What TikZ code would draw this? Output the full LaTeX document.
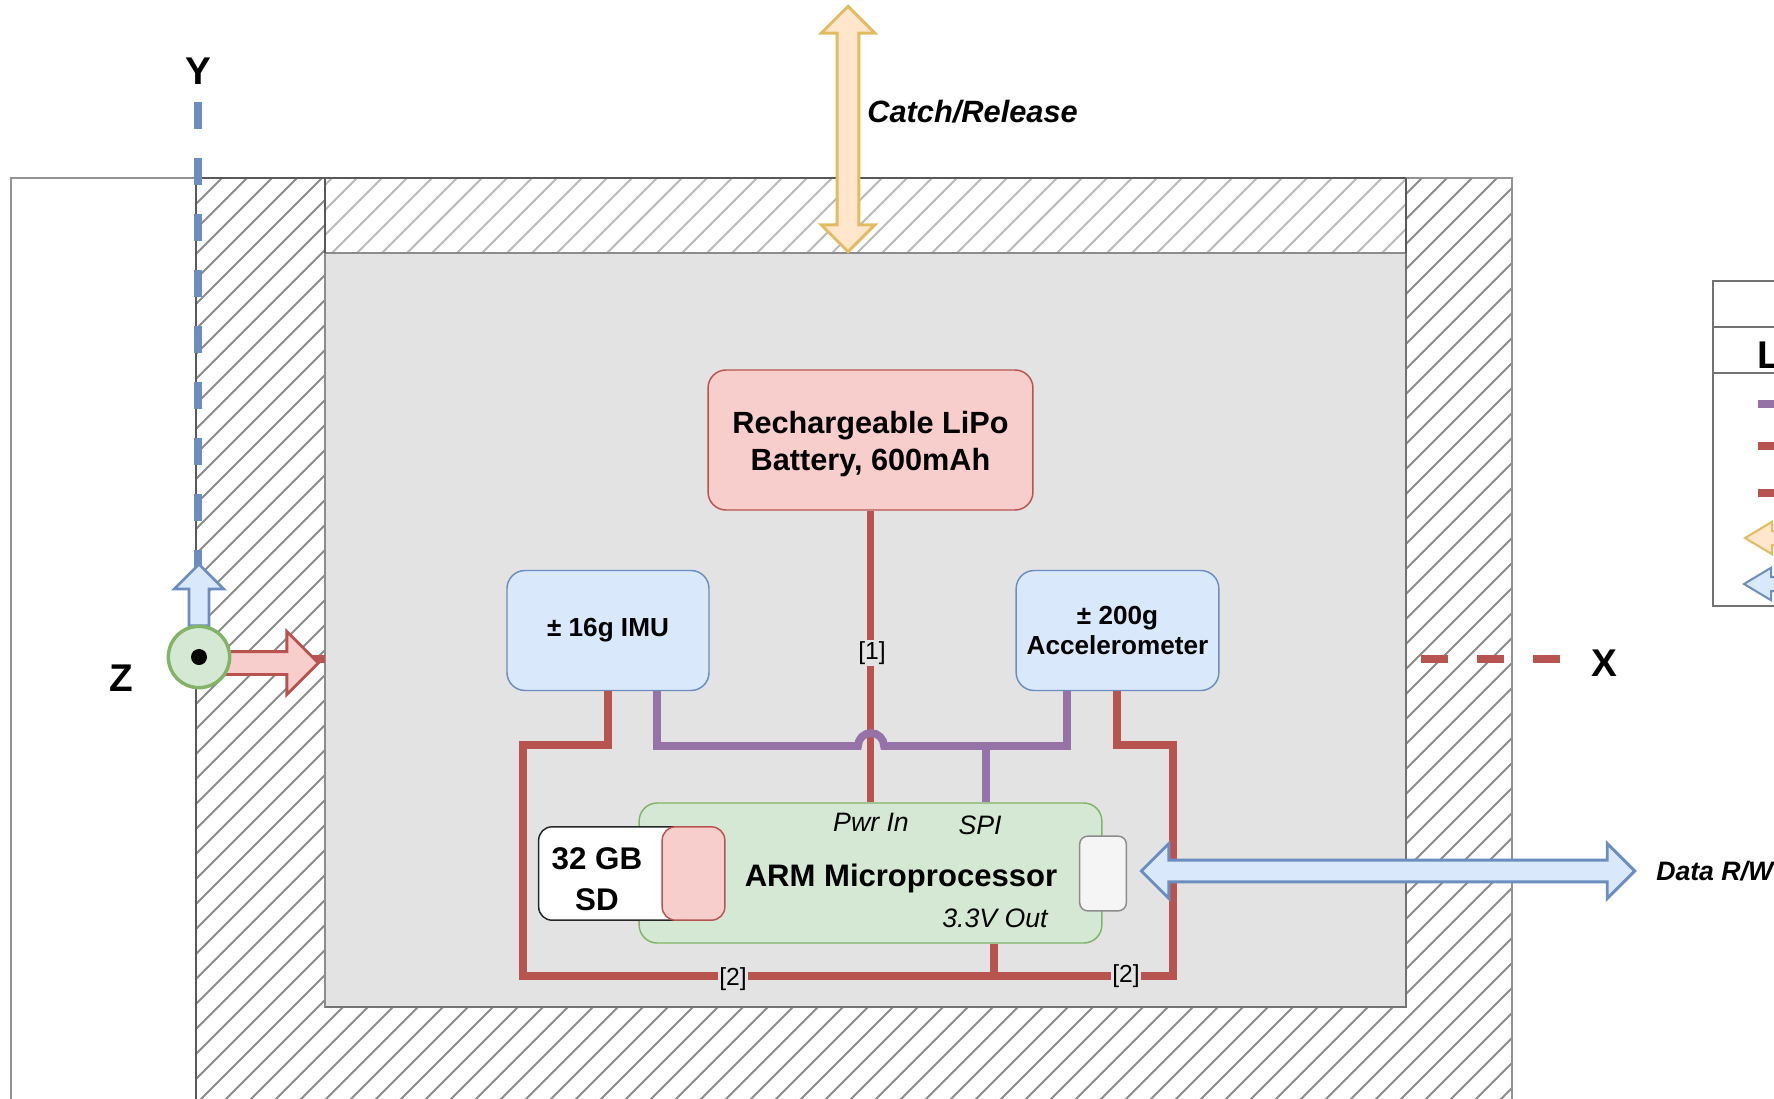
\documentclass[tikz,border=0pt]{standalone}
\usepackage{fontspec}
\setmainfont{Liberation Sans}
\usetikzlibrary{shapes.arrows,calc}
\definecolor{wred}{HTML}{B85450}
\definecolor{wpurple}{HTML}{9673A6}
\definecolor{wblue}{HTML}{6C8EBF}
\definecolor{fred}{HTML}{F8CECC}
\definecolor{fblue}{HTML}{DAE8FC}
\definecolor{fgreen}{HTML}{D5E8D4}
\definecolor{wgreen}{HTML}{82B366}
\definecolor{forange}{HTML}{FFE6CC}
\definecolor{worange}{HTML}{E3BC62}
\definecolor{panel}{HTML}{E3E3E3}
\newcommand{\fsz}[1]{\fontsize{#1}{#1}\selectfont}
\tikzset{
  px/.style={x=0.75pt,y=-0.75pt},
  box/.style={rounded corners=13.5pt,line width=1.1pt,inner sep=0pt,align=center,font=\bfseries\fsz{20.5}},
  redbox/.style={box,draw=wred,fill=fred},
  bluebox/.style={box,draw=wblue,fill=fblue},
  redwire/.style={draw=wred,line width=5.8pt,line join=miter},
  purplewire/.style={draw=wpurple,line width=5.8pt,line join=miter},
  axisdash/.style={line width=6pt,dash pattern=on 20.5pt off 21.5pt},
  tag/.style={fill=panel,inner sep=1pt,font=\fsz{18.5}},
  portlabel/.style={font=\itshape\fsz{20},inner sep=0pt},
  axislabel/.style={font=\bfseries\fsz{29},inner sep=0pt},
  hatchline/.style={line width=1.4pt},
  bigarrow/.style={double arrow,inner xsep=0pt,inner ysep=7pt,line width=2.2pt,double arrow head extend=12pt,minimum width=38pt},
  tagarrow/.style={double arrow,inner xsep=0pt,inner ysep=4.5pt,line width=1.5pt,double arrow tip angle=62,double arrow head extend=7pt,minimum width=24pt,minimum height=150pt}
}
\begin{document}
\begin{tikzpicture}[px]
\useasboundingbox (0,0) rectangle (1774,1099);
\clip (0,0) rectangle (1774,1099);
\fill[white] (0,0) rectangle (1774,1099);
% housing
\draw[gray!85,line width=1.8pt] (11,178) rectangle (1512,1120);
\begin{scope}
  \clip (196,178) rectangle (1512,1120);
  \foreach \c in {-1000,-975,...,1600} { \draw[hatchline,draw=black!45] (\c,1150) -- ++(1000,-1000); }
\end{scope}
\fill[white] (325,178) rectangle (1406,253);
\begin{scope}
  \clip (325,178) rectangle (1406,253);
  \foreach \c in {200,225,...,1500} { \draw[hatchline,draw=black!27] (\c,260) -- ++(100,-100); }
\end{scope}
\fill[panel] (325,253) rectangle (1406,1007);
\draw[black!45,line width=1.4pt] (325,253) rectangle (1406,1007);
\draw[black!65,line width=1.5pt] (196,178) -- (1406,178);
\draw[black!65,line width=1.5pt] (196,178) -- (196,1120);
\draw[black!65,line width=1.3pt] (325,178) -- (325,253);
\draw[black!65,line width=1.3pt] (1406,178) -- (1406,253);
\draw[black!55,line width=1.3pt] (1406,253) -- (1406,1007) -- (325,1007);
\draw[gray!85,line width=1.6pt] (1512,178) -- (1512,1120);
% axes
\coordinate (ytop) at (198,102);
\coordinate (ybase) at (198,570);
\draw[wblue,axisdash] (ytop) -- (ybase);
\coordinate (xa) at (1421,659);
\coordinate (xb) at (1561,659);
\draw[wred,axisdash] (xa) -- (xb);
\node[axislabel] (ylab) at (198,71) {Y};
\node[axislabel] (xlab) at (1604,663) {X};
\node[axislabel] (zlab) at (121,678) {Z};
% nodes
\node[redbox,minimum width=243.7pt,minimum height=105pt] (bat) at (870.5,440) {};
\node[font=\bfseries\fsz{23},align=center,inner sep=0pt] (batt) at (870.5,444) {Rechargeable LiPo\\[5pt]Battery, 600mAh};
\node[bluebox,minimum width=151.5pt,minimum height=90pt] (imu) at (608,630.5) {};
\node[font=\bfseries\fsz{19.6},inner sep=0pt] (imut) at (608,630) {± 16g IMU};
\node[bluebox,minimum width=152pt,minimum height=90pt,font=\bfseries\fsz{19.6}] (acc) at (1117.5,630.5) {± 200g\\[3.5pt]Accelerometer};
\node[box,draw=wgreen,fill=fgreen,minimum width=347pt,minimum height=105pt] (arm) at (870.5,873) {};
% wires
\coordinate (lt) at (523,745);
\coordinate (lb) at (523,976);
\coordinate (rb) at (1173,976);
\coordinate (rt) at (1173,745);
\coordinate (imured) at (608,745);
\coordinate (accred) at (1117,745);
\coordinate (outj) at (994,976);
\draw[redwire] (imu.south -| imured) -- (imured) -- (lt) -- (lb) -- (rb) -- (rt) -- (accred) -- (acc.south -| accred);
\draw[redwire] (arm.south -| outj) -- (outj);
\draw[redwire] (bat.south) -- (arm.north -| bat.south);
\coordinate (pa) at (657,746);
\coordinate (pb) at (1067,746);
\coordinate (spi) at (986,746);
\draw[purplewire] (imu.south -| pa) -- (pa) -- (858,746) arc[start angle=180,end angle=0,radius=9.75pt] -- (pb) -- (acc.south -| pb);
\draw[purplewire] (spi) -- (arm.north -| spi);
\node[tag] (t1) at (872,653) {[1]};
\node[tag] (t2) at (733,979) {[2]};
\node[tag] (t3) at (1126,976) {[2]};
% SD card and ports
\node[box,draw=black!85,fill=white,minimum width=122pt,minimum height=70pt,rounded corners=10pt] (sd) at (620,873.5) {};
\node[font=\bfseries\fsz{23.5},align=center,inner sep=0pt] (sdt) at (597,879) {32 GB\\[7pt]SD};
\node[box,draw=wred,fill=fred,minimum width=47pt,minimum height=70pt,rounded corners=10pt] (slot) at (693.5,873.5) {};
\node[box,draw=black!45,fill=black!4,minimum width=35pt,minimum height=56pt,rounded corners=6pt] (port) at (1103,873.5) {};
\node[font=\bfseries\fsz{23.3},inner sep=0pt] (armt) at (901,878) {ARM Microprocessor};
\node[portlabel] (pwr) at (871,822) {Pwr In};
\node[portlabel] (spil) at (980,825) {SPI};
\node[portlabel] (out) at (995,918) {3.3V Out};
% block arrows
\node[bigarrow,draw=worange,fill=forange,rotate=90,minimum height=184pt] (catch) at (848,129) {};
\node[bigarrow,draw=wblue,fill=fblue,minimum height=370pt,minimum width=40pt,double arrow head extend=12.5pt] (data) at (1388,871) {};
\node[single arrow,inner xsep=0pt,inner ysep=6.5pt,line width=2pt,draw=wblue,fill=fblue,rotate=90,minimum height=46pt,minimum width=36pt,single arrow head extend=11pt] (up) at (199,600) {};
\coordinate (stubend) at (325,659);
\draw[wred,line width=5.4pt] (313,659) -- (stubend);
\node[single arrow,inner xsep=0pt,inner ysep=7.5pt,line width=2.2pt,draw=wred,fill=fred,minimum height=73pt,minimum width=45pt,single arrow head extend=15pt] (rarrow) at (264,663) {};
\node[circle,draw=wgreen,fill=fgreen,line width=2.6pt,minimum size=46pt,inner sep=0pt] (zc) at (199,657) {};
\fill[black] (zc.center) circle[radius=6pt];
\node[font=\bfseries\itshape\fsz{23.1},anchor=west,inner sep=0pt] (catchl) at (867,112) {Catch/Release};
\node[font=\bfseries\itshape\fsz{20},anchor=west,inner sep=0pt] (datal) at (1656,871) {Data R/W};
% legend
\draw[black!55,line width=1.8pt] (1713,281) rectangle (1800,606);
\draw[black!55,line width=1.8pt] (1713,327) -- (1800,327);
\draw[black!55,line width=1.8pt] (1713,373) -- (1800,373);
\node[axislabel,anchor=base west] (legt) at (1757,368) {L};
\coordinate (la) at (1758,404); \coordinate (la2) at (1800,404);
\coordinate (lb1) at (1758,446); \coordinate (lb2) at (1800,446);
\coordinate (lc1) at (1758,493); \coordinate (lc2) at (1800,493);
\draw[wpurple,line width=5.6pt] (la) -- (la2);
\draw[wred,line width=5.6pt] (lb1) -- (lb2);
\draw[wred,line width=5.6pt] (lc1) -- (lc2);
\node[tagarrow,draw=worange,fill=forange] (lego) at (1845,538) {};
\node[tagarrow,draw=wblue,fill=fblue] (legb) at (1844,584) {};
\end{tikzpicture}
\end{document}
